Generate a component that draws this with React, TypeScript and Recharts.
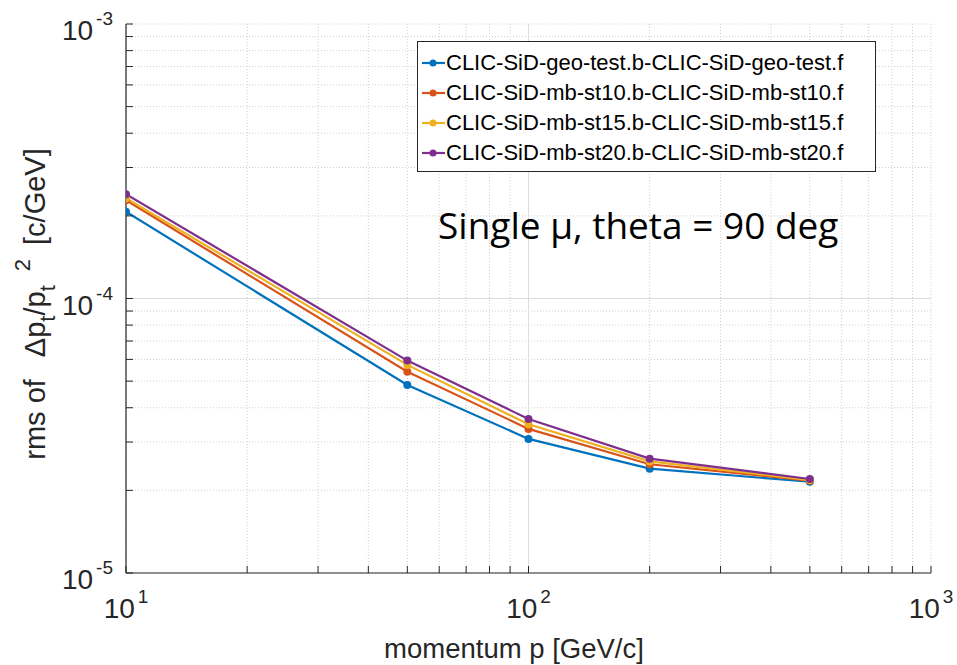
import { LineChart, Line, XAxis, YAxis, CartesianGrid, Legend } from 'recharts'

// momentum p [GeV/c]
const momentum = [10, 50, 100, 200, 500]

// rms of dpt/pt^2 [c/GeV]
const geoTest = [2.07e-4, 4.84e-5, 3.08e-5, 2.4e-5, 2.15e-5]
const st10 = [2.28e-4, 5.41e-5, 3.35e-5, 2.49e-5, 2.17e-5]
const st15 = [2.32e-4, 5.73e-5, 3.48e-5, 2.55e-5, 2.18e-5]
const st20 = [2.4e-4, 5.94e-5, 3.64e-5, 2.61e-5, 2.2e-5]

const seriesNames = [
  'CLIC-SiD-geo-test.b-CLIC-SiD-geo-test.f',
  'CLIC-SiD-mb-st10.b-CLIC-SiD-mb-st10.f',
  'CLIC-SiD-mb-st15.b-CLIC-SiD-mb-st15.f',
  'CLIC-SiD-mb-st20.b-CLIC-SiD-mb-st20.f',
]
const seriesKeys = ['geo', 'st10', 'st15', 'st20']
const seriesColors = ['#0072BD', '#D95319', '#EDB120', '#7E2F8E']

const xTicks = [10, 20, 30, 40, 50, 60, 70, 80, 90, 100, 200, 300, 400, 500, 600, 700, 800, 900, 1000]
const yTicks = [
  1e-5, 2e-5, 3e-5, 4e-5, 5e-5, 6e-5, 7e-5, 8e-5, 9e-5,
  1e-4, 2e-4, 3e-4, 4e-4, 5e-4, 6e-4, 7e-4, 8e-4, 9e-4, 1e-3,
]
const xMajor = [100]
const yMajor = [1e-4]

const data = momentum.map((p, i) => ({
  p,
  geo: geoTest[i],
  st10: st10[i],
  st15: st15[i],
  st20: st20[i],
}))

const AXIS = '#262626'
const FONT = '"Liberation Sans", Arial, sans-serif'
const TICK_LEN = 7

const exponentOf = (v: number) => {
  const e = Math.log10(v)
  return Math.abs(e - Math.round(e)) < 1e-6 ? Math.round(e) : null
}

function BottomTick({ x, y, payload }: any) {
  const exp = exponentOf(payload.value)
  return (
    <g>
      <line x1={x} x2={x} y1={y} y2={y - TICK_LEN} stroke={AXIS} />
      {exp !== null && (
        <text x={x} y={y + 45} textAnchor="middle" fontSize={28} fill={AXIS} fontFamily={FONT}>
          10
          <tspan dx={3} dy={-15} fontSize={19}>
            {exp}
          </tspan>
        </text>
      )}
    </g>
  )
}

function LeftTick({ x, y, payload }: any) {
  const exp = exponentOf(payload.value)
  return (
    <g>
      <line x1={x} x2={x + TICK_LEN} y1={y} y2={y} stroke={AXIS} />
      {exp !== null && (
        <text x={x - 13} y={y + 16} textAnchor="end" fontSize={28} fill={AXIS} fontFamily={FONT}>
          10
          <tspan dx={3} dy={-15} fontSize={19}>
            {exp}
          </tspan>
        </text>
      )}
    </g>
  )
}

const TopTick = ({ x, y }: any) => (
  <line x1={x} x2={x} y1={y} y2={y + TICK_LEN} stroke={AXIS} />
)

const RightTick = ({ x, y }: any) => (
  <line x1={x} x2={x - TICK_LEN} y1={y} y2={y} stroke={AXIS} />
)

const XLabel = () => (
  <text x={514} y={658} textAnchor="middle" fontSize={27.5} fill={AXIS} fontFamily={FONT}>
    momentum p [GeV/c]
  </text>
)

const YLabel = () => (
  <text
    x={45}
    y={304}
    transform="rotate(-90, 45, 304)"
    textAnchor="middle"
    fontSize={29}
    fill={AXIS}
    fontFamily={FONT}
  >
    rms of
    <tspan dx={22}>Δp</tspan>
    <tspan dy={10} fontSize={22}>t</tspan>
    <tspan dy={-10}>/p</tspan>
    <tspan dy={10} fontSize={22}>t</tspan>
    <tspan dx={14} dy={-25} fontSize={22}>2</tspan>
    <tspan dx={14} dy={15}>[c/GeV]</tspan>
  </text>
)

function LegendBox({ payload }: any) {
  return (
    <div
      style={{
        border: `1px solid ${AXIS}`,
        background: '#fff',
        width: 459,
        height: 131,
        paddingTop: 6,
        boxSizing: 'border-box',
        fontFamily: FONT,
        fontSize: 22,
        color: '#000',
      }}
    >
      {(payload || []).map((entry: any) => (
        <div key={entry.value} style={{ display: 'flex', alignItems: 'center', height: 30 }}>
          <svg width={28} height={30}>
            <line x1={4} x2={27} y1={15} y2={15} stroke={entry.color} strokeWidth={2.2} />
            <circle cx={15} cy={15} r={3.5} fill={entry.color} />
          </svg>
          <span style={{ lineHeight: '30px', whiteSpace: 'nowrap' }}>{entry.value}</span>
        </div>
      ))}
    </div>
  )
}

export default function App() {
  return (
    <div style={{ position: 'relative', width: 957, height: 665, background: '#fff' }}>
      <style>{'body{margin:0}'}</style>
      <LineChart width={957} height={665} data={data} margin={{ top: 24, right: 26, left: 0, bottom: 0 }}>
        <CartesianGrid
          horizontalValues={yTicks}
          verticalValues={xTicks}
          stroke="#cfcfcf"
          strokeDasharray="1 2"
        />
        <CartesianGrid horizontalValues={yMajor} verticalValues={xMajor} stroke="#dcdcdc" />
        <XAxis
          dataKey="p"
          type="number"
          scale="log"
          domain={[10, 1000]}
          allowDataOverflow
          ticks={xTicks}
          interval={0}
          tick={<BottomTick />}
          tickSize={0}
          tickMargin={0}
          tickLine={false}
          axisLine={{ stroke: AXIS, strokeWidth: 1.2 }}
          height={92}
          label={<XLabel />}
        />
        <XAxis
          xAxisId="top"
          orientation="top"
          dataKey="p"
          type="number"
          scale="log"
          domain={[10, 1000]}
          allowDataOverflow
          ticks={xTicks}
          interval={0}
          tick={<TopTick />}
          tickSize={0}
          tickMargin={0}
          tickLine={false}
          axisLine={{ stroke: AXIS, strokeWidth: 1.2 }}
          height={0}
        />
        <YAxis
          type="number"
          scale="log"
          domain={[1e-5, 1e-3]}
          allowDataOverflow
          ticks={yTicks}
          interval={0}
          tick={<LeftTick />}
          tickSize={0}
          tickMargin={0}
          tickLine={false}
          axisLine={{ stroke: AXIS, strokeWidth: 1.2 }}
          width={126}
          label={<YLabel />}
        />
        <YAxis
          yAxisId="right"
          orientation="right"
          type="number"
          scale="log"
          domain={[1e-5, 1e-3]}
          allowDataOverflow
          ticks={yTicks}
          interval={0}
          tick={<RightTick />}
          tickSize={0}
          tickMargin={0}
          tickLine={false}
          axisLine={{ stroke: AXIS, strokeWidth: 1.2 }}
          width={0}
        />
        {seriesKeys.map((k, i) => (
          <Line
            key={k}
            dataKey={k}
            name={seriesNames[i]}
            stroke={seriesColors[i]}
            strokeWidth={2.2}
            dot={{ r: 4, fill: seriesColors[i], stroke: seriesColors[i], strokeWidth: 0 }}
            isAnimationActive={false}
          />
        ))}
        <Legend
          layout="vertical"
          align="center"
          verticalAlign="middle"
          content={<LegendBox />}
          wrapperStyle={{ left: 417, top: 41, width: 459, height: 131 }}
        />
      </LineChart>
      <svg
        width={957}
        height={665}
        style={{ position: 'absolute', left: 0, top: 0, pointerEvents: 'none' }}
      >
        <text x={438} y={239} fontSize={37} fontFamily="'Open Sans', Lato, sans-serif" fill="#000">
          Single μ, theta = 90 deg
        </text>
      </svg>
    </div>
  )
}
